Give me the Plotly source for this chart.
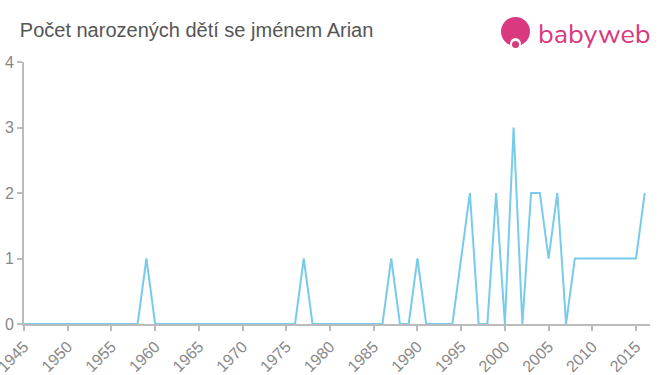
import plotly.graph_objects as go

years = list(range(1945, 2017))
counts_by_year = {1959: 1, 1977: 1, 1987: 1, 1990: 1, 1995: 1, 1996: 2, 1999: 2,
                  2001: 3, 2003: 2, 2004: 2, 2005: 1, 2006: 2, 2008: 1, 2009: 1,
                  2010: 1, 2011: 1, 2012: 1, 2013: 1, 2014: 1, 2015: 1, 2016: 2}
counts = [counts_by_year.get(y, 0) for y in years]

x_ticks = list(range(1945, 2016, 5))
x_tick_labels = [str(t) for t in x_ticks]
y_ticks = [0, 1, 2, 3, 4]

title_text = "Počet narozených dětí se jménem Arian"
logo_text = "babyweb"

fig = go.Figure()
fig.add_trace(go.Scatter(x=years, y=counts, mode="lines",
                         line=dict(color="#78cbea", width=2), hoverinfo="x+y"))

fig.update_layout(
    width=660, height=375,
    margin=dict(l=24, r=10, t=62, b=51),
    paper_bgcolor="white", plot_bgcolor="white",
    showlegend=False,
    font=dict(family="Liberation Sans, Arial, sans-serif", color="#888"),
    title=dict(text=title_text, x=0.03, xanchor="left", y=0.92, yanchor="middle",
               font=dict(size=20, color="#555")),
    xaxis=dict(range=[1945, 2016.6], tickmode="array", tickvals=x_ticks,
               ticktext=x_tick_labels, tickangle=-45, showgrid=False,
               showline=True, linecolor="#bbb", linewidth=2,
               ticks="outside", ticklen=5, tickcolor="#bbb", tickwidth=2,
               tickfont=dict(size=16, color="#888"), zeroline=False, automargin=False,
               ticklabeloverflow="allow"),
    yaxis=dict(range=[0, 4], tickmode="array", tickvals=y_ticks, showgrid=False,
               showline=True, linecolor="#bbb", linewidth=2,
               ticks="outside", ticklen=5, tickcolor="#bbb", tickwidth=2,
               tickfont=dict(size=16, color="#888"), zeroline=False, automargin=False),
)

# logo
fig.add_shape(type="circle", xref="paper", yref="paper",
              x0=(501 - 24) / 626, x1=(530 - 24) / 626,
              y0=(324 - 46) / 262, y1=(324 - 17) / 262,
              fillcolor="#d9397f", line=dict(width=0))
fig.add_shape(type="circle", xref="paper", yref="paper",
              x0=(510 - 24) / 626, x1=(521 - 24) / 626,
              y0=(324 - 50) / 262, y1=(324 - 38) / 262,
              fillcolor="white", line=dict(width=0))
fig.add_shape(type="circle", xref="paper", yref="paper",
              x0=(512 - 24) / 626, x1=(519 - 24) / 626,
              y0=(324 - 48) / 262, y1=(324 - 41) / 262,
              fillcolor="#d9397f", line=dict(width=0))
fig.add_annotation(text=logo_text, xref="paper", yref="paper",
                   x=(536 - 24) / 626, y=(324 - 34) / 262, xanchor="left", yanchor="middle",
                   showarrow=False, font=dict(size=27, color="#d9397f",
                                              family="Nunito, Lato, sans-serif"))

fig.write_html("out.html")
